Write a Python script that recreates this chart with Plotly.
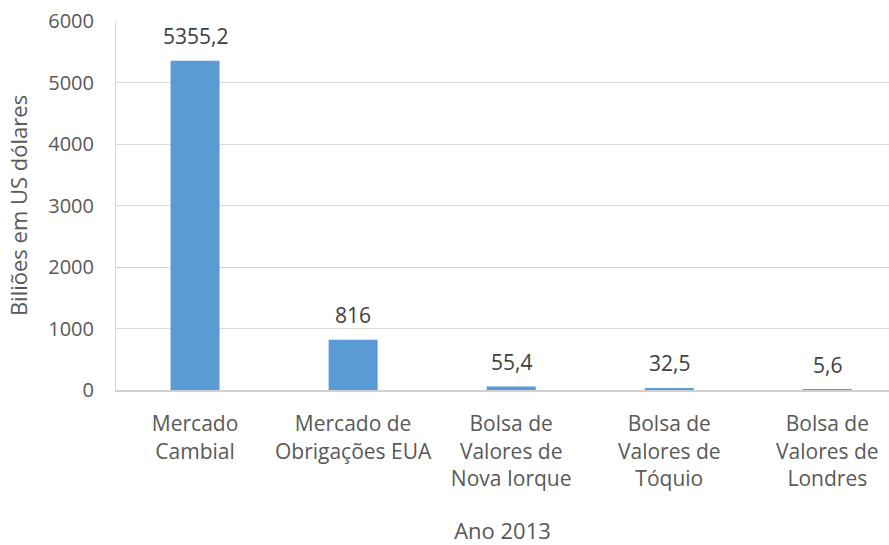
import plotly.graph_objects as go

categories = ["Mercado<br>Cambial", "Mercado de<br>Obrigações EUA", "Bolsa de<br>Valores de<br>Nova Iorque",
              "Bolsa de<br>Valores de<br>Tóquio", "Bolsa de<br>Valores de<br>Londres"]
values = [5355.2, 816, 55.4, 32.5, 5.6]
labels = ["5355,2", "816", "55,4", "32,5", "5,6"]
yticks = [0, 1000, 2000, 3000, 4000, 5000, 6000]

FONT = "Open Sans"
GREY = "#595959"

fig = go.Figure()
fig.add_trace(go.Bar(x=list(range(len(categories))), y=values, width=0.31,
                     marker=dict(color="#5B9BD5", line=dict(width=0))))

for i, (v, t) in enumerate(zip(values, labels)):
    fig.add_annotation(x=i, y=v, text=t, showarrow=False, yanchor="bottom", yshift=9,
                       font=dict(family=FONT, size=21, color="#404040"))

fig.update_layout(
    width=889, height=545,
    margin=dict(l=116, r=0, t=21, b=155),
    plot_bgcolor="white", paper_bgcolor="white",
    showlegend=False,
    font=dict(family=FONT, size=20, color=GREY),
    xaxis=dict(range=[-0.5, 4.39], tickmode="array", tickvals=list(range(len(categories))),
               ticktext=categories, showgrid=False, showline=True, linecolor="#d0d0d0", linewidth=2,
               ticks="", ticklabelstandoff=14, tickfont=dict(family=FONT, size=21, color=GREY),
               title=dict(text="Ano 2013", standoff=36, font=dict(family=FONT, size=22, color=GREY))),
    yaxis=dict(range=[0, 6000], tickvals=yticks, showgrid=True, gridcolor="#d9d9d9", gridwidth=1,
               showline=True, linecolor="#d9d9d9", linewidth=1, zeroline=False, ticks="",
               ticklabelstandoff=17, tickfont=dict(family=FONT, size=20, color=GREY),
               title=dict(text="Biliões em US dólares", standoff=14, font=dict(family=FONT, size=22, color=GREY))),
)

fig.write_html("out.html")
